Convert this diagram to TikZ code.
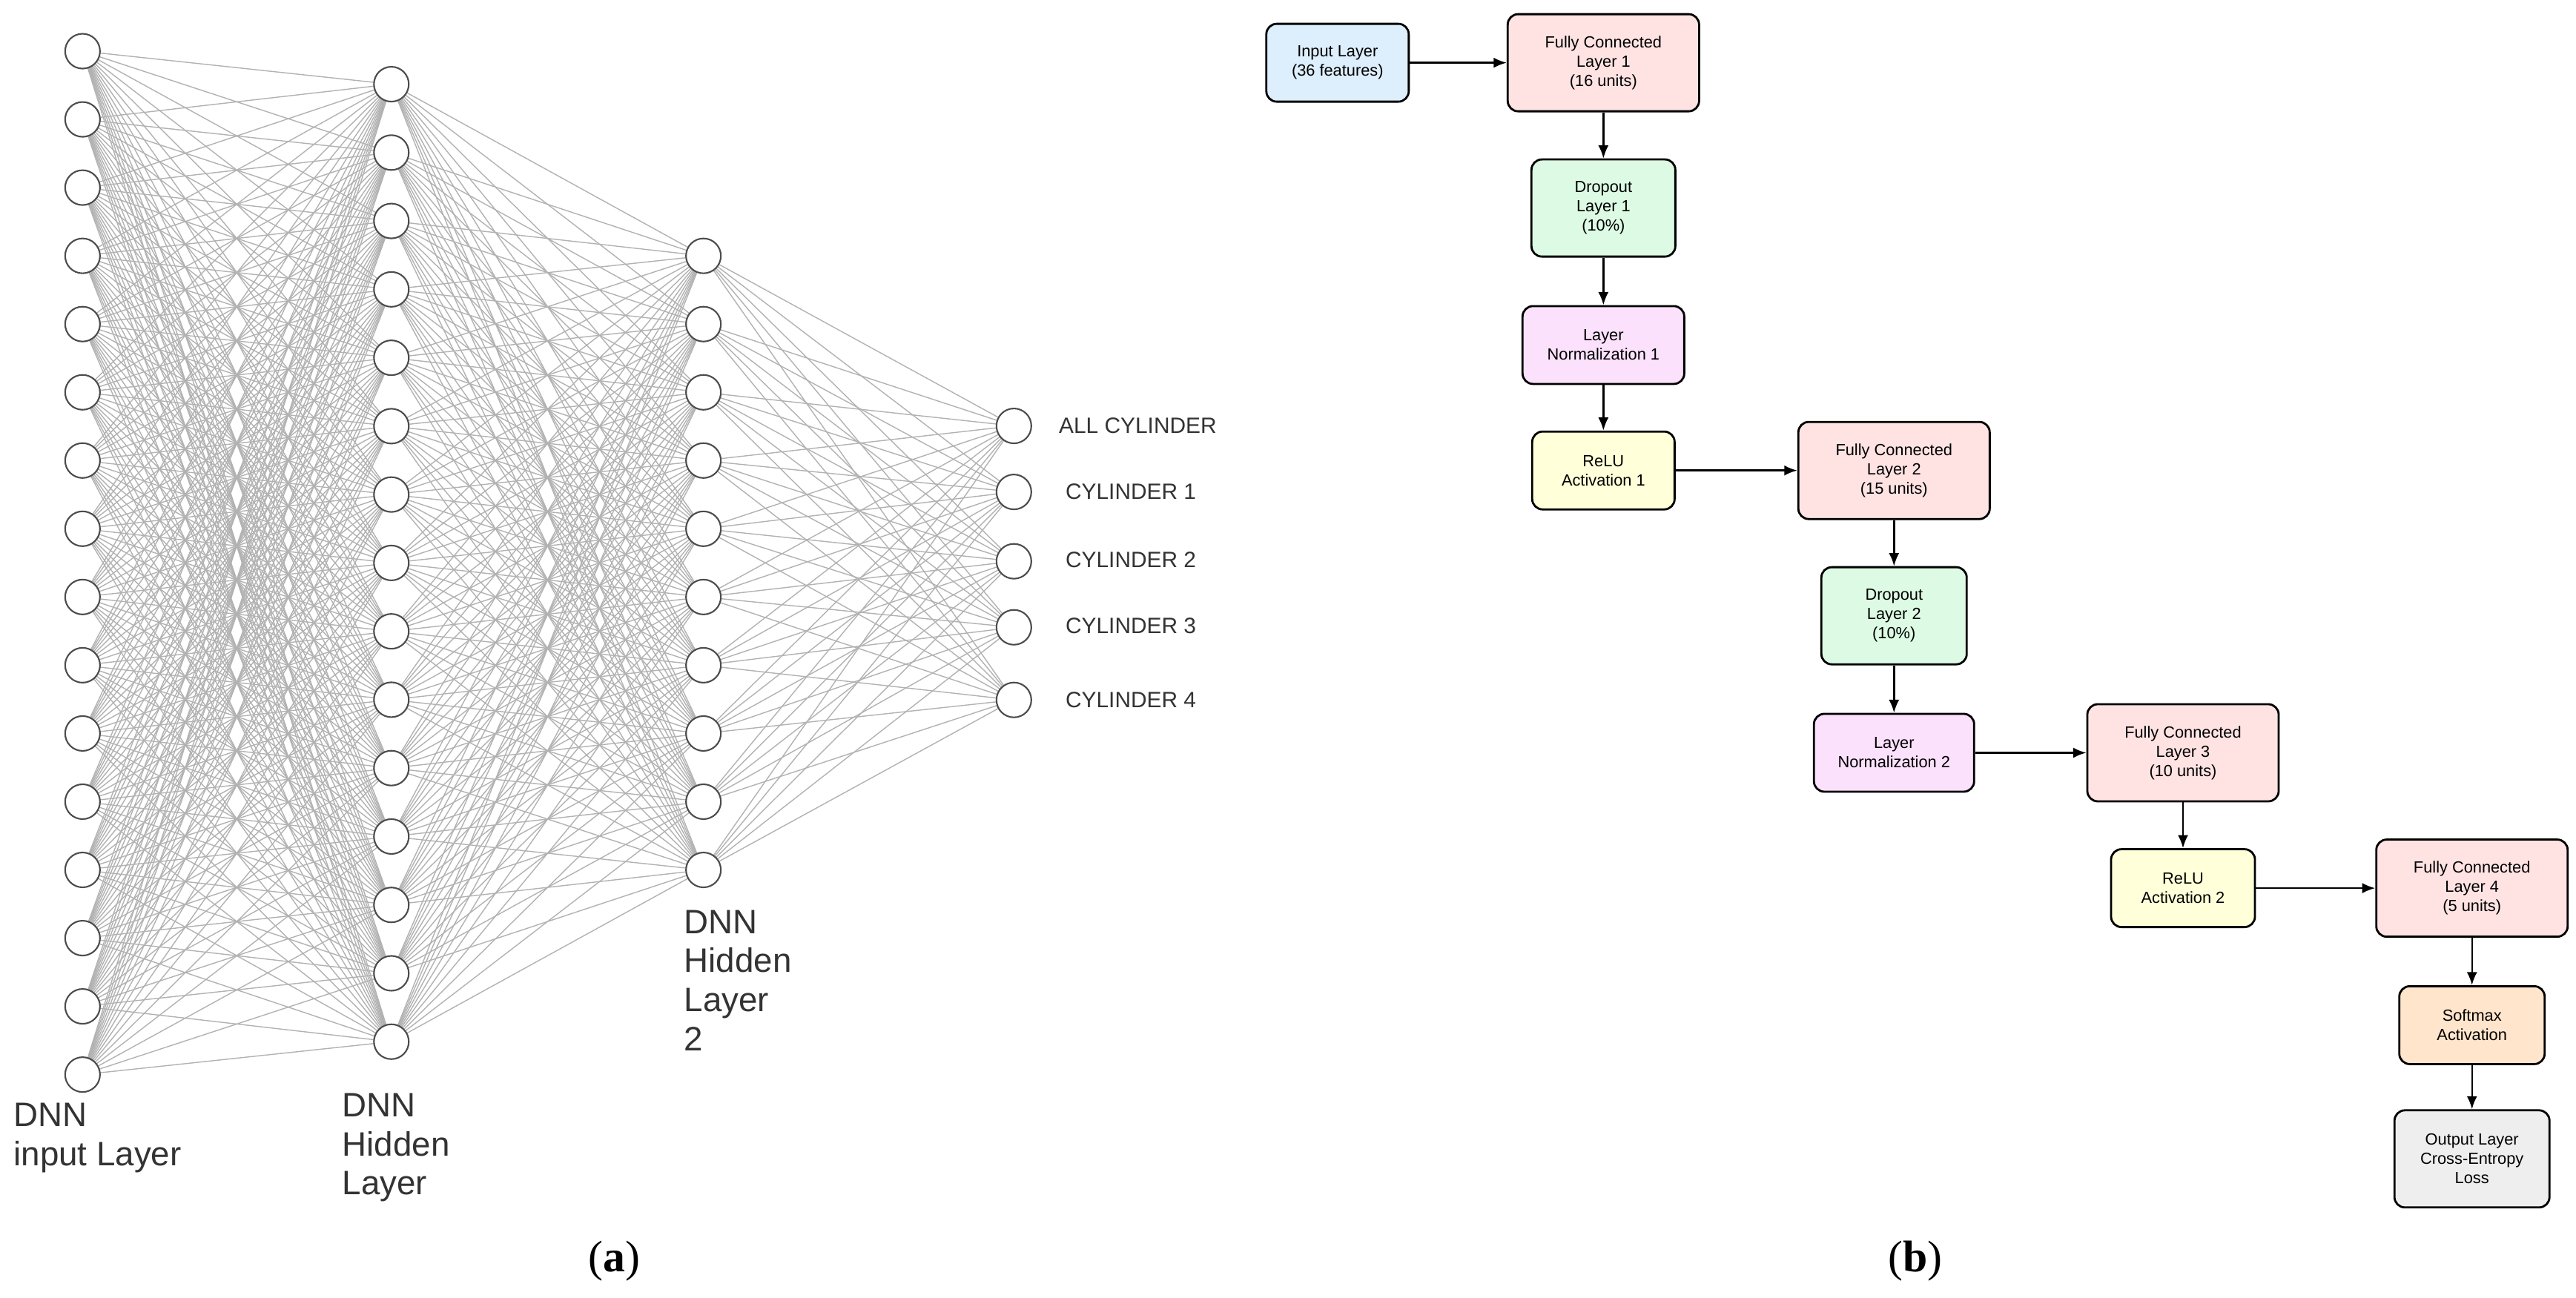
\documentclass[tikz,border=0pt]{standalone}
\usepackage{fontspec}
\setmainfont{Liberation Sans}
\newfontfamily\serifcap{Liberation Serif}
\usetikzlibrary{arrows.meta}
\definecolor{cblue}{HTML}{DDEEFC}
\definecolor{cpink}{HTML}{FFE3E3}
\definecolor{cgreen}{HTML}{DDFBE4}
\definecolor{cpurp}{HTML}{FBE1FB}
\definecolor{cyel}{HTML}{FFFFD9}
\definecolor{corg}{HTML}{FFE5CC}
\definecolor{cgray}{HTML}{EEEEEE}
\begin{document}
\begin{tikzpicture}[x=0.02227cm,y=-0.02227cm,
  neuron/.style={circle,draw=black!70,fill=white,line width=0.6pt,minimum size=0.47cm,inner sep=0pt},
  edge/.style={black!30,line width=0.4pt},
  lbl/.style={font=\fontsize{13}{15}\selectfont,text=black!80,align=left,anchor=north west,inner sep=0pt},
  olbl/.style={font=\fontsize{8.5}{10}\selectfont,text=black!80,anchor=west,inner sep=0pt},
  box/.style={draw=black,line width=0.8pt,rounded corners=4pt,align=center,inner sep=1pt,
    font=\fontsize{6.2}{7.4}\selectfont,minimum height=1.05cm},
  tall/.style={minimum height=1.31cm},
  arr/.style={-{Latex[length=5pt,width=4pt]},line width=0.7pt}]
\useasboundingbox (0,0) rectangle (1560,786);
% layers
\foreach \i in {1,...,16} \coordinate (a\i) at (50,{31+(\i-1)*41.33});
\foreach \i in {1,...,15} \coordinate (b\i) at (237,{51+(\i-1)*41.43});
\foreach \i in {1,...,10} \coordinate (c\i) at (426,{155+(\i-1)*41.33});
\foreach \i/\y in {1/258,2/298,3/340,4/380,5/424} \coordinate (d\i) at (614,\y);
\foreach \i in {1,...,16} \foreach \j in {1,...,15} \draw[edge] (a\i) -- (b\j);
\foreach \i in {1,...,15} \foreach \j in {1,...,10} \draw[edge] (b\i) -- (c\j);
\foreach \i in {1,...,10} \foreach \j in {1,...,5} \draw[edge] (c\i) -- (d\j);
\foreach \i in {1,...,16} \node[neuron] (na\i) at (a\i) {};
\foreach \i in {1,...,15} \node[neuron] (nb\i) at (b\i) {};
\foreach \i in {1,...,10} \node[neuron] (nc\i) at (c\i) {};
\foreach \i in {1,...,5} \node[neuron] (nd\i) at (d\i) {};
\node[olbl] (o1) at (641,258) {ALL CYLINDER};
\node[olbl] (o2) at (645,298) {CYLINDER 1};
\node[olbl] (o3) at (645,339) {CYLINDER 2};
\node[olbl] (o4) at (645,379) {CYLINDER 3};
\node[olbl] (o5) at (645,424) {CYLINDER 4};
\node[lbl] (l1) at (8,668) {DNN\\input Layer};
\node[lbl] (l2) at (207,662) {DNN\\Hidden\\Layer};
\node[lbl] (l3) at (414,551) {DNN\\Hidden\\Layer\\2};
\node[font=\serifcap\fontsize{17}{20}\selectfont] (ca) at (372,764) {(\textbf{a})};
\node[font=\serifcap\fontsize{17}{20}\selectfont] (cb) at (1160,764) {(\textbf{b})};
% flowchart
\node[box,fill=cblue,minimum width=1.92cm] (in) at (810,38) {Input Layer\\(36 features)};
\node[box,tall,fill=cpink,minimum width=2.58cm] (fc1) at (971,38) {Fully Connected\\Layer 1\\(16 units)};
\node[box,tall,fill=cgreen,minimum width=1.94cm] (do1) at (971,126) {Dropout\\Layer 1\\(10\%)};
\node[box,fill=cpurp,minimum width=2.18cm] (ln1) at (971,209) {Layer\\Normalization 1};
\node[box,fill=cyel,minimum width=1.92cm] (re1) at (971,285) {ReLU\\Activation 1};
\node[box,tall,fill=cpink,minimum width=2.58cm] (fc2) at (1147,285) {Fully Connected\\Layer 2\\(15 units)};
\node[box,tall,fill=cgreen,minimum width=1.96cm] (do2) at (1147,373) {Dropout\\Layer 2\\(10\%)};
\node[box,fill=cpurp,minimum width=2.16cm] (ln2) at (1147,456) {Layer\\Normalization 2};
\node[box,tall,fill=cpink,minimum width=2.58cm] (fc3) at (1322,456) {Fully Connected\\Layer 3\\(10 units)};
\node[box,fill=cyel,minimum width=1.94cm] (re2) at (1322,538) {ReLU\\Activation 2};
\node[box,tall,fill=cpink,minimum width=2.58cm] (fc4) at (1497,538) {Fully Connected\\Layer 4\\(5 units)};
\node[box,fill=corg,minimum width=1.96cm] (sm) at (1497,621) {Softmax\\Activation};
\node[box,tall,fill=cgray,minimum width=2.09cm] (out) at (1497,702) {Output Layer\\Cross-Entropy\\Loss};
\draw[arr] (in) -- (fc1);
\draw[arr] (fc1) -- (do1);
\draw[arr] (do1) -- (ln1);
\draw[arr] (ln1) -- (re1);
\draw[arr] (re1) -- (fc2);
\draw[arr] (fc2) -- (do2);
\draw[arr] (do2) -- (ln2);
\draw[arr] (ln2) -- (fc3);
\draw[arr] (fc3) -- (re2);
\draw[arr] (re2) -- (fc4);
\draw[arr] (fc4) -- (sm);
\draw[arr] (sm) -- (out);
\end{tikzpicture}
\end{document}
